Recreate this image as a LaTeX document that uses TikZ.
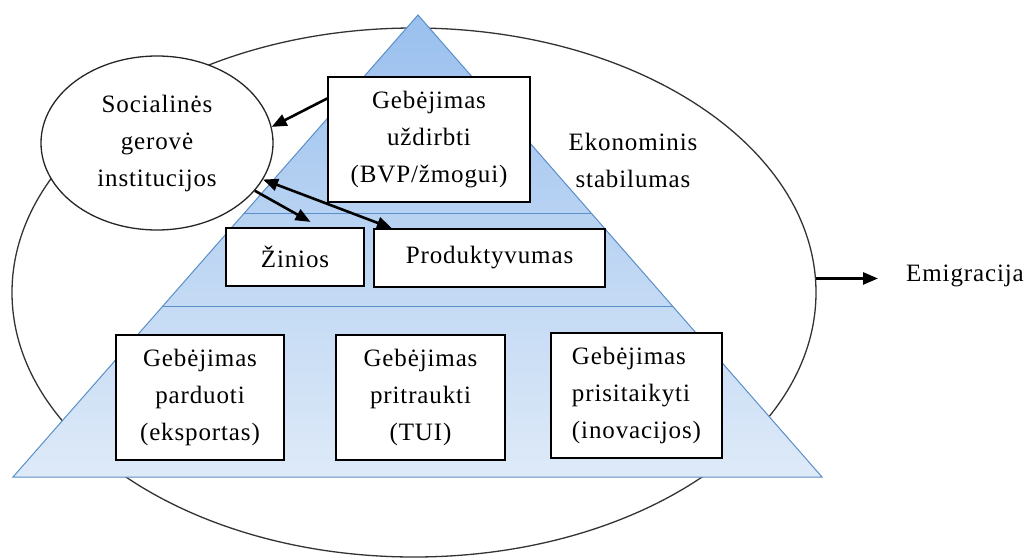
\documentclass[tikz,border=0pt]{standalone}
\usepackage{fontspec}
\setmainfont[LetterSpace=3.5]{Liberation Serif}
\usetikzlibrary{arrows.meta,calc,shapes.geometric}
\definecolor{triedge}{HTML}{5A8FC8}
\definecolor{tritop}{HTML}{9AC0EE}
\definecolor{tribot}{HTML}{DEEAF8}
\begin{document}
\begin{tikzpicture}[x=1pt,y=-1pt,
  txt/.style={font=\fontsize{25}{37}\selectfont, align=center},
  box/.style={draw=black, line width=1.4pt, fill=white, inner sep=0pt, txt},
  tip/.tip={Triangle[length=15pt,width=12pt]},
  arr/.style={line width=2.6pt, -tip},
]
\fill[white] (0,0) rectangle (1029,560);
\useasboundingbox (0,0) rectangle (1029,560);
% outer ellipse
\node[ellipse, draw=black!80, line width=1.3pt, minimum width=804pt, minimum height=529pt, inner sep=0pt] (big) at (414,292.5) {};
% pyramid
\coordinate (apex) at (418,15);
\coordinate (bl) at (13,477);
\coordinate (br) at (822,477);
\shadedraw[top color=tritop, bottom color=tribot, draw=triedge, line width=1pt] (apex) -- (br) -- (bl) -- cycle;
\draw[triedge, line width=1pt] ($(apex)!0.4286!(bl)$) -- ($(apex)!0.4286!(br)$);
\draw[triedge, line width=1pt] ($(apex)!0.632!(bl)$) -- ($(apex)!0.632!(br)$);
% boxes
\node[box, minimum width=202pt, minimum height=125pt] (bvp) at (429,139.5) {Gebėjimas\\uždirbti\\(BVP/žmogui)};
\node[box, minimum width=138pt, minimum height=58pt] (zin) at (295,257) {Žinios};
\node[box, minimum width=231pt, minimum height=58pt] (prod) at (489.5,258) {Produktyvumas};
\node[box, minimum width=168pt, minimum height=125pt] (pard) at (200,397.5) {Gebėjimas\\parduoti\\(eksportas)};
\node[box, minimum width=169pt, minimum height=125pt] (prit) at (420.5,397.5) {Gebėjimas\\pritraukti\\(TUI)};
\node[box, align=left, minimum width=171pt, minimum height=125pt] (pris) at (636.5,395.5) {Gebėjimas\\prisitaikyti\\(inovacijos)};
% social ellipse
\node[ellipse, draw=black!85, line width=1.3pt, fill=white, minimum width=232pt, minimum height=174pt, inner sep=0pt, txt] (soc) at (157,143) {Socialinės\\gerovė\\institucijos};
% labels
\node[txt] (eko) at (633,160) {Ekonominis\\stabilumas};
\node[txt, anchor=west, inner sep=0pt] (emig) at (906,276) {Emigracija};
% arrows
\coordinate (zt) at ($(zin.north west)!0.68!(zin.north east)$);
\coordinate (pt) at ($(prod.north west)!0.08!(prod.north east)$);
\draw[arr] (bvp.158) -- (soc.8);
\draw[arr, shorten >=11pt] (soc.-26) -- (zt);
\draw[line width=2.6pt, tip-tip] (soc.-19) -- (pt);
\draw[arr, shorten >=28pt] (big.2.4) -- (big.2.4 -| emig.west);
\end{tikzpicture}
\end{document}
